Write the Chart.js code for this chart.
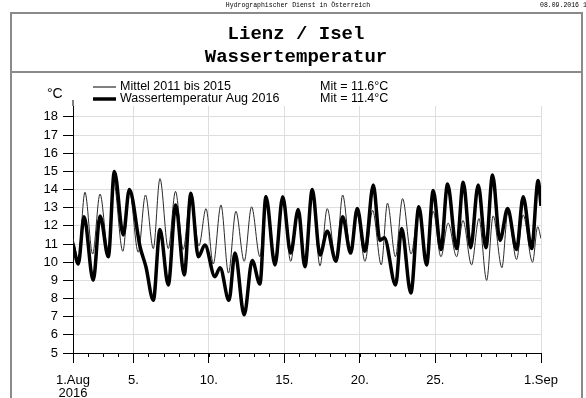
<!DOCTYPE html>
<html>
<head>
<meta charset="utf-8">
<script src="https://cdn.jsdelivr.net/npm/chart.js@4.4.1/dist/chart.umd.min.js"></script>
<style>
    body { margin: 0; background: #fff; }
    #wrap { width: 586px; height: 398px; }
</style>
</head>
<body>
<div id="wrap"><canvas id="temp-chart" width="586" height="398"></canvas></div>
<script>
// time in days since 1.Aug 00:00, values in °C
const mittelDays = [0.0, 0.35, 0.79, 1.30, 1.79, 2.34, 2.68, 3.30, 3.74, 4.32, 4.80, 5.32, 5.76, 6.31, 6.79, 7.30,
    7.81, 8.34, 8.81, 9.29, 9.80, 10.30, 10.79, 11.34, 11.83, 12.38, 12.78, 13.38, 13.89, 14.42, 14.92, 15.36,
    15.85, 16.36, 16.84, 17.42, 17.86, 18.39, 18.81, 19.34, 19.85, 20.42, 20.83, 21.36, 21.83, 22.40, 22.88,
    23.41, 23.86, 24.37, 24.85, 25.41, 25.83, 26.40, 26.89, 27.40, 27.83, 28.41, 28.81, 29.38, 29.82, 30.44,
    30.78, 31.0];
const mittelTemps = [11.3, 10.2, 13.85, 10.45, 13.75, 10.6, 14.5, 10.6, 13.9, 10.55, 13.7, 10.75, 14.6, 10.75, 13.9, 10.7,
    13.8, 10.9, 12.95, 9.9, 13.15, 9.4, 12.8, 10.05, 13.05, 10.3, 13.7, 10.1, 13.5, 10.05, 12.9, 9.75,
    13.8, 9.8, 12.95, 10.05, 13.7, 10.7, 12.7, 10.05, 12.85, 9.85, 13.25, 10.3, 13.5, 10.45, 12.8,
    10.2, 12.8, 10.3, 12.15, 10.3, 12.3, 9.85, 12.4, 9.0, 12.55, 9.7, 12.8, 10.15, 12.6, 10.0,
    11.95, 11.3];

const augDays = [0.0, 0.35, 0.73, 1.34, 1.79, 2.34, 2.74, 3.33, 3.73, 4.44, 4.83, 5.32, 5.76, 6.31, 6.80, 7.37,
    7.81, 8.30, 8.74, 9.40, 9.74, 10.33, 10.73, 11.34, 11.87, 12.38, 12.78, 13.38, 13.89, 14.42, 14.92,
    15.36, 15.85, 16.36, 16.84, 17.42, 17.86, 18.39, 18.83, 19.34, 19.89, 20.33, 20.62, 21.37, 21.77,
    22.38, 22.91, 23.42, 23.86, 24.37, 24.81, 25.41, 25.85, 26.34, 26.84, 27.35, 27.79, 28.28, 28.79,
    29.38, 29.82, 30.38, 30.81, 31.0];
const augTemps = [11.0, 9.9, 12.5, 9.0, 12.55, 10.3, 15.0, 11.5, 14.0, 10.85, 9.75, 7.9, 11.8, 8.75, 13.15, 9.3,
    13.8, 10.3, 10.95, 9.2, 9.7, 7.9, 10.5, 7.1, 10.1, 8.8, 13.6, 9.85, 13.6, 10.5, 12.9,
    9.75, 14.0, 10.4, 11.7, 10.05, 12.5, 10.5, 12.95, 10.6, 14.25, 11.2, 11.35, 8.75, 11.85,
    8.3, 13.05, 9.85, 13.95, 10.7, 14.3, 10.75, 14.4, 10.8, 14.25, 10.8, 14.8, 11.2, 12.95,
    10.7, 13.6, 10.75, 14.5, 13.1];

const seriesNames = ['Mittel 2011 bis 2015', 'Wassertemperatur Aug 2016'];
const seriesMeans = ['Mit = 11.6°C', 'Mit = 11.4°C'];

const xTickDays = [0, 4, 9, 14, 19, 24, 31];
const xTickLabels = [['1.Aug', '2016'], '5.', '10.', '15.', '20.', '25.', '1.Sep'];
const yTickValues = [5, 6, 7, 8, 9, 10, 11, 12, 13, 14, 15, 16, 17, 18];

const sans = '"Liberation Sans", Arial, sans-serif';
const mono = '"Liberation Mono", "Courier New", monospace';

function toPoints(days, temps) {
    return days.map((d, i) => ({ x: d, y: temps[i] }));
}

const pagePlugin = {
    id: 'page',
    beforeDraw(chart) {
        const c = chart.ctx;
        c.save();
        c.fillStyle = '#fff';
        c.fillRect(0, 0, chart.width, chart.height);
        c.restore();
    },
    afterDraw(chart) {
        const c = chart.ctx;
        c.save();

        // frame round the sheet
        c.strokeStyle = '#8a8a8a';
        c.lineWidth = 2;
        c.strokeRect(11, 13, 571, 420);
        c.beginPath();
        c.moveTo(11, 72);
        c.lineTo(582, 72);
        c.stroke();

        // header
        c.fillStyle = '#000';
        c.textBaseline = 'middle';
        c.font = '6.5px ' + mono;
        c.textAlign = 'center';
        c.fillText('Hydrographischer Dienst in Österreich', 298, 5);
        c.textAlign = 'left';
        c.fillText('08.09.2016 11:41', 540, 5);

        c.textAlign = 'center';
        c.font = 'bold 19px ' + mono;
        c.fillText('Lienz / Isel', 296, 34);
        c.fillText('Wassertemperatur', 296, 57);

        // unit
        c.font = '14px ' + sans;
        c.textAlign = 'left';
        c.fillText('°C', 47, 94);

        // legend
        const rows = [87, 99];
        const widths = [1, 3.5];
        c.font = '12.5px ' + sans;
        rows.forEach((y, i) => {
            c.strokeStyle = '#000';
            c.lineWidth = widths[i];
            c.beginPath();
            c.moveTo(93, y);
            c.lineTo(116, y);
            c.stroke();
            c.fillText(seriesNames[i], 120, y);
            c.fillText(seriesMeans[i], 320, y);
        });

        // y axis runs a bit above the top tick
        const ya = chart.scales.y;
        c.strokeStyle = '#000';
        c.lineWidth = 1;
        c.beginPath();
        c.moveTo(ya.right, chart.chartArea.top);
        c.lineTo(ya.right, 100);
        c.stroke();

        // daily minor ticks under the x axis
        const xa = chart.scales.x;
        const base = chart.chartArea.bottom;
        c.beginPath();
        for (let d = 0; d <= 31; d++) {
            const px = Math.round(xa.getPixelForValue(d)) + 0.5;
            c.moveTo(px, base);
            c.lineTo(px, base + 4);
        }
        c.stroke();
        c.restore();
    }
};

new Chart(document.getElementById('temp-chart'), {
    type: 'line',
    data: {
        datasets: [
            {
                label: seriesNames[1],
                data: toPoints(augDays, augTemps),
                borderColor: '#000',
                borderWidth: 3.5,
                pointRadius: 0,
                cubicInterpolationMode: 'monotone',
                fill: false
            },
            {
                label: seriesNames[0],
                data: toPoints(mittelDays, mittelTemps),
                borderColor: '#2a2a2a',
                borderWidth: 1,
                pointRadius: 0,
                cubicInterpolationMode: 'monotone',
                fill: false
            }
        ]
    },
    options: {
        responsive: false,
        animation: false,
        layout: { padding: { top: 106, right: 45, left: 0, bottom: 0 } },
        plugins: {
            legend: { display: false },
            title: { display: false },
            tooltip: { enabled: false }
        },
        scales: {
            x: {
                type: 'linear',
                min: 0,
                max: 31,
                afterBuildTicks: scale => {
                    scale.ticks = xTickDays.map(v => ({ value: v }));
                },
                afterFit: scale => { scale.height = 45; },
                ticks: {
                    autoSkip: false,
                    maxRotation: 0,
                    padding: 11,
                    color: '#000',
                    font: { family: sans, size: 13, lineHeight: 1.0 },
                    callback: value => xTickLabels[xTickDays.indexOf(value)]
                },
                grid: {
                    color: ctx => (ctx.tick && ctx.tick.value === 0) ? 'rgba(0,0,0,0)' : '#dedede',
                    tickColor: '#000',
                    tickLength: 10,
                    lineWidth: 1
                },
                border: { display: true, color: '#000', width: 1 }
            },
            y: {
                type: 'linear',
                min: 5,
                max: 18.6,
                afterBuildTicks: scale => {
                    scale.ticks = yTickValues.map(v => ({ value: v }));
                },
                afterFit: scale => { scale.width = 73; },
                ticks: {
                    padding: 5,
                    color: '#000',
                    font: { family: sans, size: 13 }
                },
                grid: {
                    color: '#dedede',
                    tickColor: '#000',
                    tickLength: 10,
                    lineWidth: 1
                },
                border: { display: true, color: '#000', width: 1 }
            }
        }
    },
    plugins: [pagePlugin]
});
</script>
</body>
</html>
